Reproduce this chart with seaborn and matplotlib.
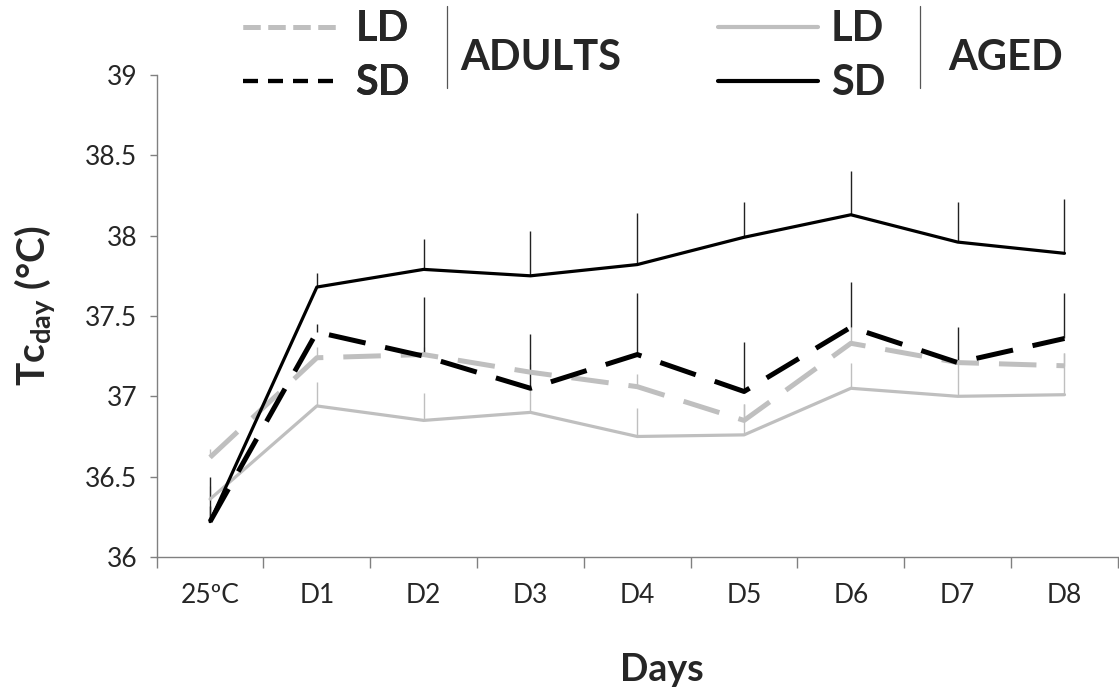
import numpy as np
import pandas as pd
import matplotlib
matplotlib.use("Agg")
import matplotlib.pyplot as plt
from matplotlib.lines import Line2D
import seaborn as sns

# ---------------- data ----------------
days = ['25ºC', 'D1', 'D2', 'D3', 'D4', 'D5', 'D6', 'D7', 'D8']
adults_ld = [36.62, 37.24, 37.26, 37.15, 37.06, 36.85, 37.33, 37.21, 37.19]
adults_ld_err = [0.05, 0.07, 0.05, 0.05, 0.08, 0.10, 0.10, 0.04, 0.08]
adults_sd = [36.22, 37.40, 37.25, 37.05, 37.26, 37.03, 37.43, 37.21, 37.36]
adults_sd_err = [0.10, 0.05, 0.37, 0.34, 0.38, 0.31, 0.28, 0.22, 0.28]
aged_ld = [36.36, 36.94, 36.85, 36.90, 36.75, 36.76, 37.05, 37.00, 37.01]
aged_ld_err = [0.08, 0.15, 0.17, 0.15, 0.18, 0.19, 0.16, 0.21, 0.26]
aged_sd = [36.22, 37.68, 37.79, 37.75, 37.82, 37.99, 38.13, 37.96, 37.89]
aged_sd_err = [0.28, 0.09, 0.19, 0.28, 0.32, 0.22, 0.27, 0.25, 0.34]
y_ticks = [36, 36.5, 37, 37.5, 38, 38.5, 39]
y_tick_labels = ['36', '36.5', '37', '37.5', '38', '38.5', '39']

GREY = '#BFBFBF'
sns.set_theme(style='white')
plt.rcParams['font.family'] = ['Lato', 'DejaVu Sans']
plt.rcParams['mathtext.fontset'] = 'custom'
plt.rcParams['mathtext.rm'] = 'Lato'
plt.rcParams['mathtext.bf'] = 'Lato:bold'

fig = plt.figure(figsize=(11.19, 6.95), dpi=100)
ax = fig.add_axes([0.140, 0.1986, 0.859, 0.6935])

x = np.arange(len(days))
series = [
    (aged_ld, aged_ld_err, GREY, '-', 2.3, GREY),
    (adults_ld, adults_ld_err, GREY, '--', 3.6, GREY),
    (adults_sd, adults_sd_err, 'black', '--', 3.6, '#222222'),
    (aged_sd, aged_sd_err, 'black', '-', 2.3, '#222222'),
]

# error bars (upper only)
for vals, errs, col, ls, lw, ecol in series:
    v = np.array(vals)
    e = np.array(errs)
    ax.vlines(x, v, v + e, colors=ecol, linewidth=1.0, zorder=1)

for vals, errs, col, ls, lw, ecol in series:
    df = pd.DataFrame({'x': x, 'y': vals})
    sns.lineplot(data=df, x='x', y='y', ax=ax, color=col, linewidth=lw,
                 zorder=3)
    line = ax.lines[-1]
    if ls == '--':
        line.set_dashes([7.5, 4.0])

ax.set_xlim(-0.5, 8.5)
ax.set_ylim(36, 39)
ax.set_yticks(y_ticks)
ax.set_yticklabels(y_tick_labels, fontsize=19)
ax.set_xticks(np.arange(-0.5, 9.0, 1.0))
ax.set_xticklabels([''] * 10)
ax.set_xticks(x, minor=True)
ax.set_xticklabels(days, minor=True, fontsize=19)
ax.tick_params(axis='x', which='major', direction='out', length=8, width=1,
               color='#808080', bottom=True)
ax.tick_params(axis='x', which='minor', length=0, pad=19)
ax.tick_params(axis='y', direction='out', length=5, width=1, color='#808080',
               left=True, pad=9)

for s in ['top', 'right']:
    ax.spines[s].set_visible(False)
for s in ['left', 'bottom']:
    ax.spines[s].set_color('#808080')
    ax.spines[s].set_linewidth(1.0)

ax.set_xlabel('Days', fontsize=27, fontweight='bold')
ax.xaxis.set_label_coords(0.526, -0.199)
ax.set_ylabel(r'Tc$_{\mathbf{day}}$ (°C)', fontsize=28, fontweight='bold')
ax.yaxis.set_label_coords(-0.103, 0.521)

# ---------------- legend ----------------
h_adults = [Line2D([], [], color=GREY, lw=3.6, dashes=[3.4, 1.6]),
            Line2D([], [], color='black', lw=3.0, dashes=[3.6, 2.4])]
h_aged = [Line2D([], [], color=GREY, lw=3.0),
          Line2D([], [], color='black', lw=3.0)]
leg_kw = dict(loc='upper left', frameon=False,
              prop={'family': 'Lato', 'weight': 'bold', 'size': 30},
              handlelength=2.4, handletextpad=0.3, labelspacing=0.38,
              borderpad=0, borderaxespad=0)
leg1 = fig.legend(h_adults, ['LD', 'SD'], bbox_to_anchor=(0.217, 0.985),
                  **leg_kw)
leg2 = fig.legend(h_aged, ['LD', 'SD'], bbox_to_anchor=(0.642, 0.985),
                  **leg_kw)
fig.add_artist(leg1)
fig.text(0.411, 0.917, 'ADULTS', fontsize=30, fontweight='bold',
         ha='left', va='center')
fig.text(0.847, 0.917, 'AGED', fontsize=30, fontweight='bold',
         ha='left', va='center')
fig.add_artist(Line2D([0.3995, 0.3995], [0.873, 0.992], color='#555555',
                      lw=0.9, transform=fig.transFigure))
fig.add_artist(Line2D([0.822, 0.822], [0.873, 0.992], color='#555555',
                      lw=0.9, transform=fig.transFigure))

fig.savefig('out.png', dpi=100)
